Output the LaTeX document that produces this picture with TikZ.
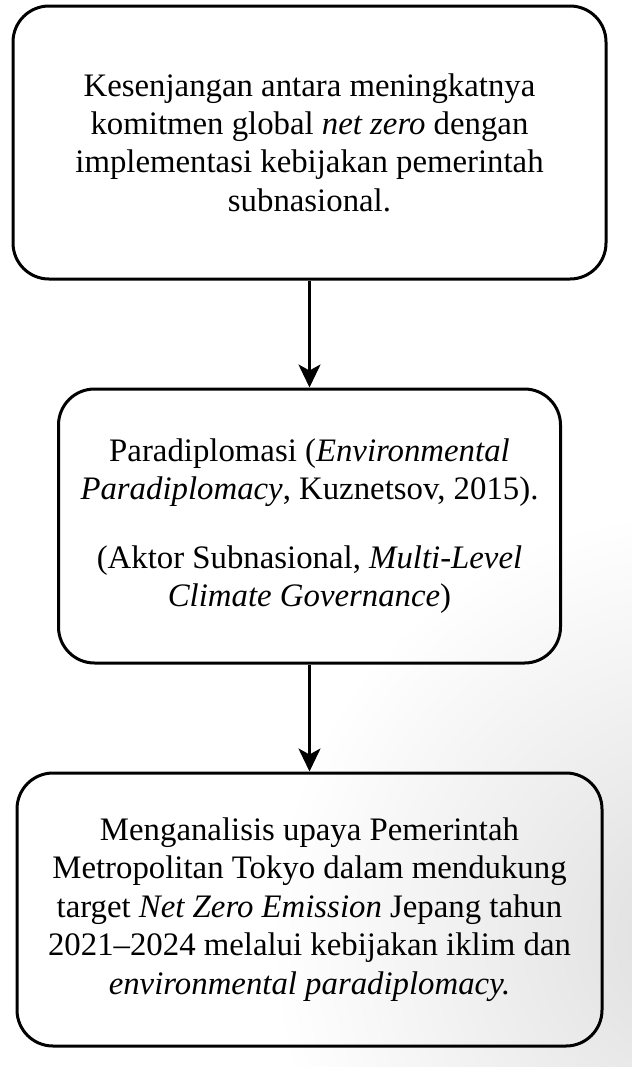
\documentclass[tikz,border=0pt]{standalone}
\usepackage{fontspec}
\setmainfont{Liberation Serif}
\usetikzlibrary{arrows.meta}
\begin{document}
\begin{tikzpicture}[x=0.5pt,y=-0.5pt,
  box/.style={draw=black, line width=1.5pt, rounded corners=18pt, align=center,
    inner sep=0pt, font=\fontsize{16.4}{19.2}\selectfont},
  conn/.style={line width=1.25pt, -{Stealth[length=11.5pt,width=11pt,inset=3pt]}}]
\useasboundingbox (0,0) rectangle (632,1067);
\begin{scope}
  \clip (0,0) rectangle (632,1067);
  \shade[inner color=black!13, outer color=white] (700,940) circle (430);
\end{scope}
\node[box, minimum width=296.5pt, minimum height=136.5pt] (b1) at (309.5,142.5)
  {Kesenjangan antara meningkatnya\\ komitmen global \textit{net zero} dengan\\
   implementasi kebijakan pemerintah\\ subnasional.};
\node[box, minimum width=251pt, minimum height=137pt] (b2) at (309.5,526)
  {Paradiplomasi (\textit{Environmental}\\ \textit{Paradiplomacy}, Kuznetsov, 2015).\\[15pt]
   (Aktor Subnasional, \textit{Multi-Level}\\ \textit{Climate Governance})};
\node[box, minimum width=292.5pt, minimum height=136.5pt] (b3) at (309.5,909.5)
  {Menganalisis upaya Pemerintah\\ Metropolitan Tokyo dalam mendukung\\
   target \textit{Net Zero Emission} Jepang tahun\\ 2021--2024 melalui kebijakan iklim dan\\
   \textit{environmental paradiplomacy.}};
\draw[conn] (b1.south) -- (b2.north);
\draw[conn] (b2.south) -- (b3.north);
\end{tikzpicture}
\end{document}
